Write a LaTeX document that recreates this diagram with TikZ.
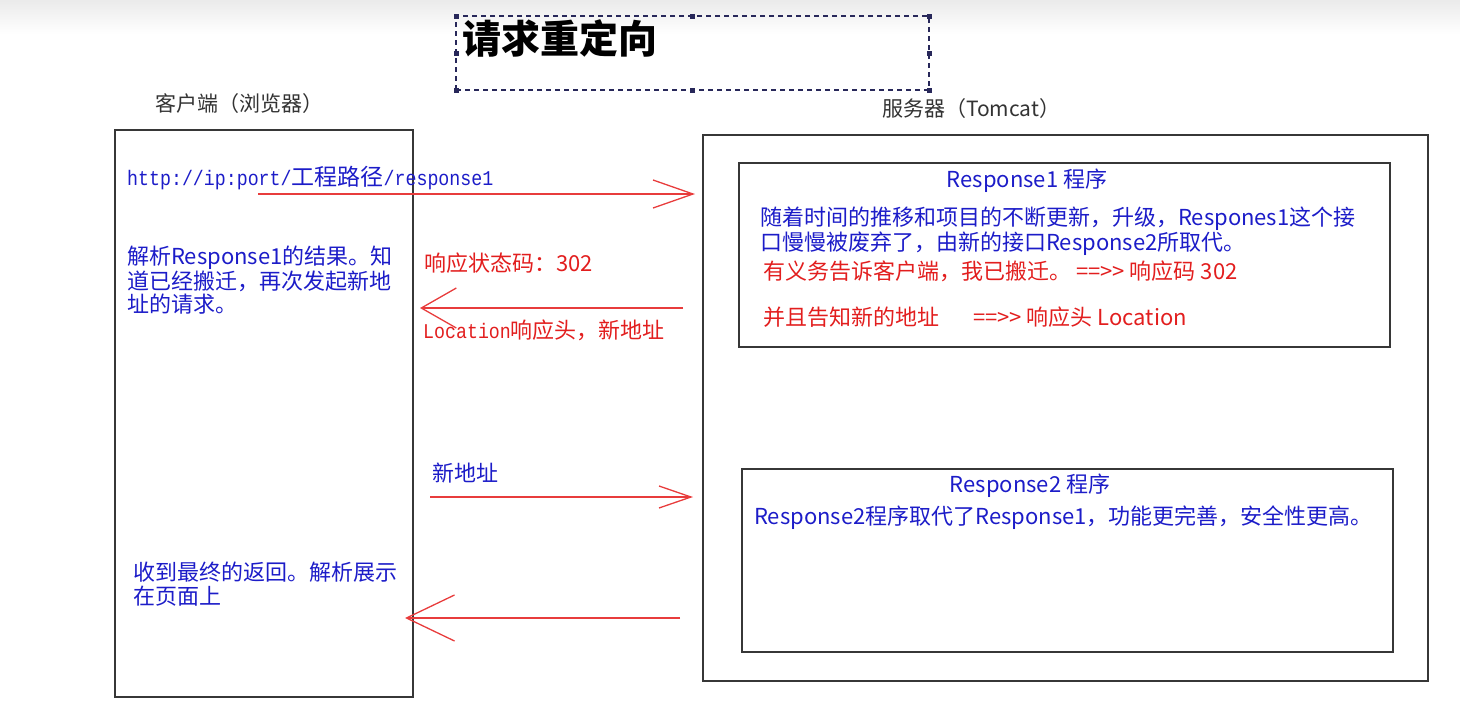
\documentclass[tikz,border=0pt]{standalone}
\usepackage{fontspec}
\setmainfont{Noto Sans CJK SC}
\setmonofont{Liberation Mono}
\newfontfamily\narrowmono[FakeStretch=0.87]{Liberation Mono}
\usetikzlibrary{arrows.meta}
\definecolor{tblue}{RGB}{28,28,200}
\definecolor{tred}{RGB}{226,30,30}
\definecolor{lred}{RGB}{232,60,60}
\definecolor{boxc}{RGB}{55,55,55}
\definecolor{navy}{RGB}{40,40,90}
\newcommand\urlmono{\narrowmono\fontsize{21}{22}\selectfont}
\newcommand\urlcjk{\rmfamily\fontsize{23}{24}\selectfont}
\newcommand\dblarrow{=={}>{}>}
\tikzset{
  box/.style={draw=boxc, line width=1.5pt, inner sep=0pt, outer sep=0pt},
  txt/.style={inner sep=0pt, anchor=west, font=\fontsize{22}{23.5}\selectfont},
  bt/.style={txt, text=tblue},
  rt/.style={txt, text=tred},
  lbl/.style={inner sep=0pt, anchor=west, text=black!80, font=\fontsize{21}{22}\selectfont},
  redarr/.style={draw=lred, line width=1.3pt},
  titlebox/.style={draw=navy, line width=1.2pt, dash pattern=on 5pt off 4pt, inner sep=0pt, outer sep=0pt},
}
\begin{document}
\begin{tikzpicture}[x=1pt,y=-1pt]
\useasboundingbox (0,0) rectangle (1460,726);
\shade[top color=black!8, bottom color=white] (0,0) rectangle (1460,34);

% title
\node[titlebox, minimum width=473pt, minimum height=74pt] (tbox) at (692.5,53) {};
\foreach \a in {north west,north,north east,west,east,south west,south,south east}
  \fill[navy] (tbox.\a) ++(-2.5,-2.5) rectangle ++(5,5);
\node[inner sep=0pt, anchor=west, font=\fontsize{39}{40}\selectfont\bfseries] (title) at (462,38) {请求重定向};

% labels
\node[lbl] (clabel) at (155,104) {客户端（浏览器）};
\node[lbl] (slabel) at (882,109) {服务器（Tomcat）};

% boxes
\node[box, minimum width=298pt, minimum height=567pt] (client) at (264,413.5) {};
\node[box, minimum width=725pt, minimum height=546pt] (server) at (1065.5,408) {};
\node[box, minimum width=651pt, minimum height=184pt] (r1) at (1064.5,255) {};
\node[box, minimum width=651pt, minimum height=183pt] (r2) at (1067.5,560.5) {};

% client texts
\node[txt, text=tblue] (url) at (127,178) {\urlmono http://ip:port/\urlcjk 工程路径\urlmono /response1};
\node[bt, anchor=north west, align=left] (parse) at (127,246) {解析Response1的结果。知\\道已经搬迁，再次发起新地\\址的请求。};
\node[bt, anchor=north west, align=left] (final) at (133,562) {收到最终的返回。解析展示\\在页面上};

% middle texts
\node[rt] (code) at (424,263) {响应状态码：302};
\node[rt] (loc) at (423,330) {{\urlmono Location}响应头，新地址};
\node[bt] (newaddr) at (432,473) {新地址};

% response1
\node[bt, anchor=center] (r1title) at (1027,181) {Response1 程序};
\node[bt, anchor=north west, align=left] (r1desc) at (760,207) {随着时间的推移和项目的不断更新，升级，Respones1这个接\\口慢慢被废弃了，由新的接口Response2所取代。};
\node[rt] (r1a) at (763,271) {有义务告诉客户端，我已搬迁。 \dblarrow{} 响应码 302};
\node[rt] (r1b) at (763,317) {并且告知新的地址\hspace{34pt}\dblarrow{} 响应头 Location};

% response2
\node[bt, anchor=center] (r2title) at (1030,486) {Response2 程序};
\node[bt] (r2desc) at (754,518) {Response2程序取代了Response1，功能更完善，安全性更高。};

% arrows
\coordinate (a1s) at (258,194);
\coordinate (a1e) at (695,194);
\coordinate (a2s) at (683,308);
\coordinate (a2e) at (420,308);
\coordinate (a3s) at (430,497);
\coordinate (a3e) at (693,497);
\coordinate (a4s) at (680,618);
\coordinate (a4e) at (405,618);
\draw[redarr, -{Straight Barb[length=40pt,width=28pt]}] (a1s) -- (a1e);
\draw[redarr, -{Straight Barb[length=35pt,width=40pt]}] (a2s) -- (a2e);
\draw[redarr, -{Straight Barb[length=32pt,width=22pt]}] (a3s) -- (a3e);
\draw[redarr, -{Straight Barb[length=48pt,width=46pt]}] (a4s) -- (a4e);
\end{tikzpicture}
\end{document}
